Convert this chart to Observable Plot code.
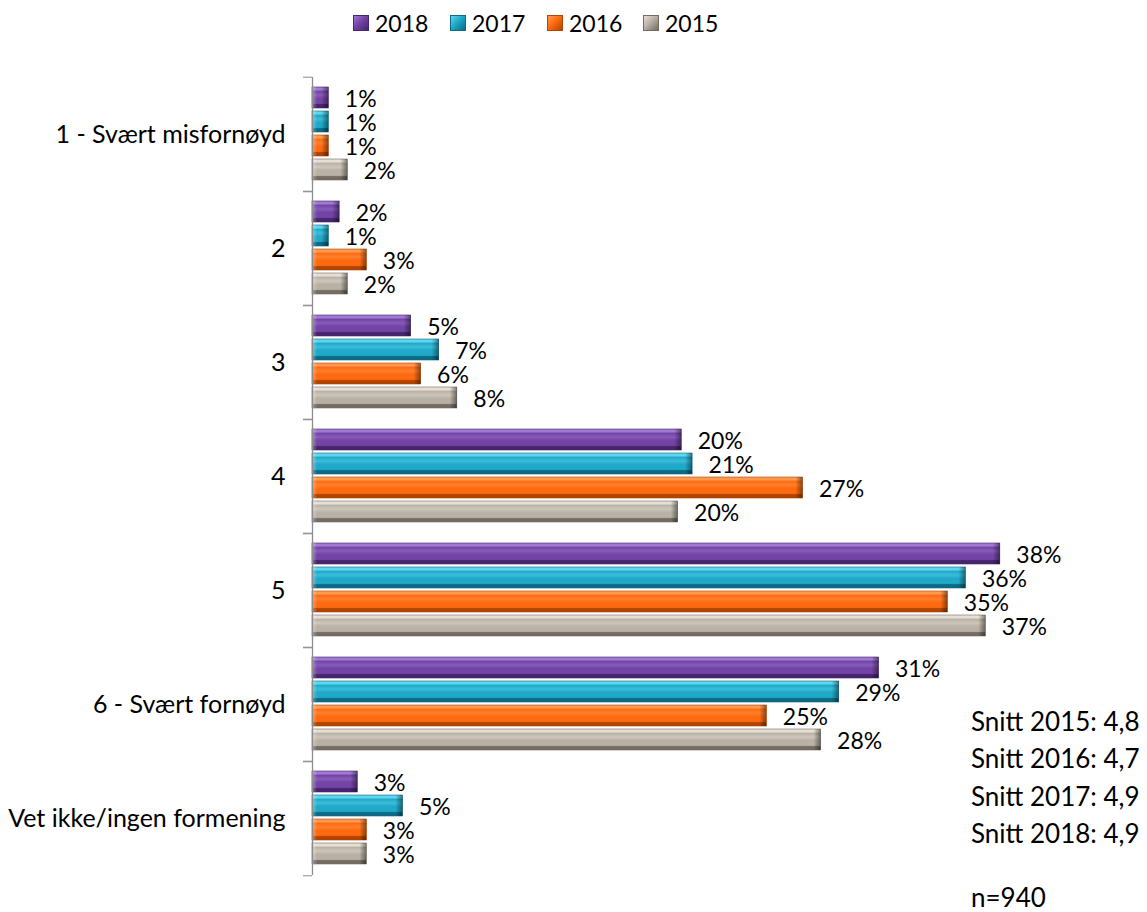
<!DOCTYPE html>
<html><head><meta charset="utf-8">
<script src="https://cdn.jsdelivr.net/npm/d3@7"></script>
<script src="https://cdn.jsdelivr.net/npm/@observablehq/plot@0.6"></script>
<style>
body{margin:0;background:#fff;font-family:Lato,sans-serif;color:#000;}
#wrap{position:relative;width:1147px;height:912px;overflow:hidden;}
#legend{position:relative;height:46px;}
.item{position:absolute;top:0;height:46px;display:flex;align-items:center;font-size:23px;}
.sw{width:16px;height:16px;margin-right:6px;box-sizing:border-box;}
#notes{position:absolute;left:971px;top:703px;font-size:26px;line-height:37.3px;}
#nnote{position:absolute;left:971px;top:884px;font-size:26px;line-height:26px;}
</style></head><body>
<div id="wrap">
  <div id="legend"></div>
  <div id="chart"></div>
  <div id="notes"></div>
  <div id="nnote"></div>
</div>
<script>
const categories = ["1 - Svært misfornøyd", "2", "3", "4", "5", "6 - Svært fornøyd", "Vet ikke/ingen formening"];
const years = ["2018", "2017", "2016", "2015"];
const values2018 = [0.9, 1.5, 5.45, 20.4, 38.0, 31.3, 2.5];
const values2017 = [0.9, 0.9, 7.0, 21.0, 36.1, 29.1, 5.0];
const values2016 = [0.9, 3.0, 6.0, 27.1, 35.1, 25.1, 3.0];
const values2015 = [1.95, 1.95, 8.0, 20.2, 37.2, 28.1, 3.0];
const labels2018 = ["1%", "2%", "5%", "20%", "38%", "31%", "3%"];
const labels2017 = ["1%", "1%", "7%", "21%", "36%", "29%", "5%"];
const labels2016 = ["1%", "3%", "6%", "27%", "35%", "25%", "3%"];
const labels2015 = ["2%", "2%", "8%", "20%", "37%", "28%", "3%"];
const noteLines = ["Snitt 2015: 4,8", "Snitt 2016: 4,7", "Snitt 2017: 4,9", "Snitt 2018: 4,9"];
const sampleNote = "n=940";

// bevel colours: [highlight, base, dark]
const palette = {
  "2018": ["#a07ad0", "#7343a6", "#45256b"],
  "2017": ["#5fd6ee", "#20a8c8", "#0d6a84"],
  "2016": ["#ff9a50", "#ff6a10", "#b04500"],
  "2015": ["#e6dfd4", "#b9b1a5", "#746c62"]
};

const valuesByYear = {"2018": values2018, "2017": values2017, "2016": values2016, "2015": values2015};
const labelsByYear = {"2018": labels2018, "2017": labels2017, "2016": labels2016, "2015": labels2015};
const table = [];
categories.forEach((c, i) => years.forEach(y => table.push({category: c, year: y, value: valuesByYear[y][i], label: labelsByYear[y][i]})));

const W = 1147, H = 866, mt = 29, mb = 35, ml = 312, mr = 111;
const step = (H - mt - mb) / categories.length;

const chart = Plot.plot({
  width: W, height: H,
  marginTop: mt, marginBottom: mb, marginLeft: ml, marginRight: mr,
  style: {fontFamily: "Lato, sans-serif", fontSize: "23px", color: "#000", background: "transparent", overflow: "visible"},
  x: {domain: [0, 40], axis: null},
  y: {domain: years, axis: null, paddingInner: 0.115, paddingOuter: 0.4},
  fy: {domain: categories, padding: 0},
  color: {type: "identity"},
  marks: [
    Plot.barX(table, {x: "value", y: "year", fy: "category", fill: d => `url(#g${d.year})`, stroke: d => palette[d.year][2], strokeWidth: 0.6}),
    Plot.barX(table, {x1: "value", x2: "value", y: "year", fy: "category", insetLeft: -7, fill: "url(#capR)"}),
    Plot.barX(table, {x1: 0, x2: 0, y: "year", fy: "category", insetRight: -5, fill: "url(#capL)"}),
    Plot.ruleX([0], {stroke: "#8c8c8c", strokeWidth: 1.3}),
    Plot.axisFy({anchor: "left", tickSize: 9, tickFormat: () => "", label: null, stroke: "#8c8c8c", dy: -step / 2}),
    Plot.axisFy({anchor: "left", tickSize: 9, tickFormat: () => "", label: null, stroke: "#8c8c8c", dy: step / 2}),
    Plot.axisFy({anchor: "left", tickSize: 0, tickPadding: 27, label: null, fontSize: 25, fill: "#000"}),
    Plot.text(table, {x: "value", y: "year", fy: "category", text: "label", textAnchor: "start", dx: 16, dy: 2, fontSize: 23, fill: "#000"})
  ]
});

const defs = d3.select(chart).insert("defs", ":first-child");
years.forEach(y => {
  const [hi, base, dark] = palette[y];
  const g = defs.append("linearGradient").attr("id", "g" + y).attr("x1", 0).attr("y1", 0).attr("x2", 0).attr("y2", 1);
  [[0, hi], [0.14, hi], [0.2, base], [0.38, d3.interpolateRgb(base, hi)(0.45)], [0.55, base], [0.78, base], [0.84, dark], [1, dark]]
    .forEach(([o, c]) => g.append("stop").attr("offset", o).attr("stop-color", c));
});
const cr = defs.append("linearGradient").attr("id", "capR").attr("x1", 0).attr("y1", 0).attr("x2", 1).attr("y2", 0);
cr.append("stop").attr("offset", 0).attr("stop-color", "#000").attr("stop-opacity", 0);
cr.append("stop").attr("offset", 1).attr("stop-color", "#000").attr("stop-opacity", 0.45);
const cl = defs.append("linearGradient").attr("id", "capL").attr("x1", 0).attr("y1", 0).attr("x2", 1).attr("y2", 0);
cl.append("stop").attr("offset", 0).attr("stop-color", "#fff").attr("stop-opacity", 0.35);
cl.append("stop").attr("offset", 1).attr("stop-color", "#fff").attr("stop-opacity", 0);

document.getElementById("chart").appendChild(chart);

// legend
const legend = document.getElementById("legend");
const legendLeft = [353, 450, 547, 643];
years.forEach((y, i) => {
  const [hi, base, dark] = palette[y];
  const it = document.createElement("div");
  it.className = "item";
  it.style.left = legendLeft[i] + "px";
  const sw = document.createElement("span");
  sw.className = "sw";
  sw.style.background = `linear-gradient(135deg, ${hi} 0%, ${base} 45%, ${dark} 100%)`;
  sw.style.border = `1px solid ${dark}`;
  it.appendChild(sw);
  it.appendChild(document.createTextNode(y));
  legend.appendChild(it);
});

document.getElementById("notes").innerHTML = noteLines.map(t => `<div>${t}</div>`).join("");
document.getElementById("nnote").textContent = sampleNote;
</script>
</body></html>
